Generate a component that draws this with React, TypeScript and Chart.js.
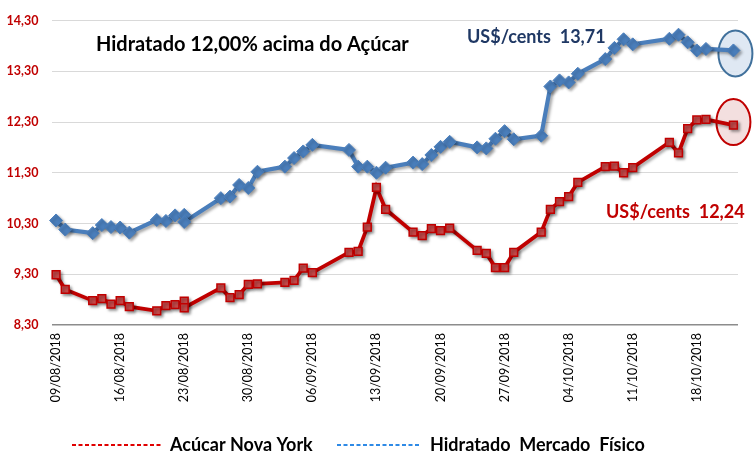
import { useEffect, useRef } from "react";
import { Chart, registerables } from "chart.js";

Chart.register(...registerables);

const dates = [
  "09/08/2018", "10/08/2018", "13/08/2018", "14/08/2018", "15/08/2018", "16/08/2018", "17/08/2018",
  "20/08/2018", "21/08/2018", "22/08/2018", "23/08/2018", "23/08/2018", "27/08/2018", "28/08/2018",
  "29/08/2018", "30/08/2018", "31/08/2018", "03/09/2018", "04/09/2018", "05/09/2018", "06/09/2018",
  "10/09/2018", "11/09/2018", "12/09/2018", "13/09/2018", "14/09/2018", "17/09/2018", "18/09/2018",
  "19/09/2018", "20/09/2018", "21/09/2018", "24/09/2018", "25/09/2018", "26/09/2018", "27/09/2018",
  "28/09/2018", "01/10/2018", "02/10/2018", "03/10/2018", "04/10/2018", "05/10/2018", "08/10/2018",
  "09/10/2018", "10/10/2018", "11/10/2018", "15/10/2018", "16/10/2018", "17/10/2018", "18/10/2018",
  "19/10/2018", "22/10/2018",
];

const sugarNewYork = [
  9.29, 9.0, 8.78, 8.82, 8.71, 8.78, 8.66,
  8.58, 8.68, 8.7, 8.77, 8.64, 9.03, 8.84,
  8.9, 9.1, 9.11, 9.14, 9.18, 9.42, 9.33,
  9.73, 9.75, 10.23, 11.01, 10.58, 10.13, 10.06,
  10.2, 10.16, 10.21, 9.77, 9.71, 9.43, 9.43,
  9.73, 10.13, 10.58, 10.73, 10.83, 11.11, 11.42,
  11.43, 11.3, 11.4, 11.9, 11.69, 12.17, 12.34,
  12.35, 12.24,
];

const hydrousPhysical = [
  10.36, 10.18, 10.11, 10.27, 10.23, 10.22, 10.12,
  10.37, 10.35, 10.46, 10.47, 10.33, 10.8, 10.83,
  11.06, 11.0, 11.32, 11.42, 11.59, 11.72, 11.85,
  11.75, 11.42, 11.42, 11.3, 11.4, 11.5, 11.47,
  11.65, 11.81, 11.91, 11.8, 11.78, 11.97, 12.12,
  11.96, 12.03, 13.0, 13.12, 13.08, 13.25, 13.54,
  13.76, 13.93, 13.83, 13.94, 14.02, 13.87, 13.71,
  13.74, 13.71,
];

const xTickLabels = [
  "09/08/2018", "16/08/2018", "23/08/2018", "30/08/2018", "06/09/2018", "13/09/2018",
  "20/09/2018", "27/09/2018", "04/10/2018", "11/10/2018", "18/10/2018",
];

const yTicks = [8.3, 9.3, 10.3, 11.3, 12.3, 13.3, 14.3];

const seriesNames = ["Acúcar Nova York", "Hidratado  Mercado  Físico"];
const titleText = "Hidratado 12,00% acima do Açúcar";
const hydrousNote = "US$/cents  13,71";
const sugarNote = "US$/cents  12,24";

const FONT = "Lato, 'Open Sans', sans-serif";

const dayIndex = (s: string) => {
  const [d, m, y] = s.split("/").map(Number);
  const [d0, m0, y0] = dates[0].split("/").map(Number);
  return Math.round((Date.UTC(y, m - 1, d) - Date.UTC(y0, m0 - 1, d0)) / 86400000);
};

const fmt = (v: number) => v.toFixed(2).replace(".", ",");

const decorPlugin = {
  id: "decor",
  beforeDatasetsDraw(chart: any) {
    const ctx = chart.ctx;
    const ell = [
      { ds: 1, dx: 2, dy: 3, fill: "rgba(220,230,242,0.9)", stroke: "#41719c" },
      { ds: 0, dx: 0, dy: -3, fill: "rgba(242,220,219,0.9)", stroke: "#c00000" },
    ];
    ell.forEach((e) => {
      const meta = chart.getDatasetMeta(e.ds);
      const last = meta.data[meta.data.length - 1];
      ctx.save();
      ctx.beginPath();
      ctx.ellipse(last.x + e.dx, last.y + e.dy, 17, 23, 0, 0, Math.PI * 2);
      ctx.fillStyle = e.fill;
      ctx.fill();
      ctx.lineWidth = 2;
      ctx.strokeStyle = e.stroke;
      ctx.stroke();
      ctx.restore();
    });
    ctx.save();
    ctx.shadowColor = "rgba(0,0,0,0.35)";
    ctx.shadowBlur = 3;
    ctx.shadowOffsetX = 2;
    ctx.shadowOffsetY = 2;
  },
  afterDatasetsDraw(chart: any) {
    const ctx = chart.ctx;
    ctx.restore();
    ctx.save();
    ctx.textBaseline = "middle";
    ctx.textAlign = "left";
    ctx.font = `bold 20px ${FONT}`;
    ctx.fillStyle = "#000000";
    ctx.fillText(titleText, 96, 45);
    ctx.font = `bold 18px ${FONT}`;
    ctx.fillStyle = "#1f3864";
    ctx.fillText(hydrousNote, 467, 37);
    ctx.fillStyle = "#c00000";
    ctx.fillText(sugarNote, 606, 212);

    const ly = 445;
    const items = [
      { x0: 72, x1: 162, tx: 170, color: "#e00000", label: seriesNames[0] },
      { x0: 337, x1: 420, tx: 430, color: "#2e8ae6", label: seriesNames[1] },
    ];
    items.forEach((it) => {
      ctx.beginPath();
      ctx.setLineDash([4, 2.5]);
      ctx.lineWidth = 2;
      ctx.strokeStyle = it.color;
      ctx.moveTo(it.x0, ly);
      ctx.lineTo(it.x1, ly);
      ctx.stroke();
      ctx.setLineDash([]);
      ctx.fillStyle = "#000000";
      ctx.font = `bold 18px ${FONT}`;
      ctx.fillText(it.label, it.tx, ly);
    });
    ctx.restore();
  },
};

export default function App() {
  const canvasRef = useRef<HTMLCanvasElement | null>(null);

  useEffect(() => {
    if (!canvasRef.current) return;
    const xs = dates.map(dayIndex);
    const tickDays = xTickLabels.map(dayIndex);
    const chart = new Chart(canvasRef.current, {
      type: "line",
      data: {
        datasets: [
          {
            label: seriesNames[0],
            data: sugarNewYork.map((v, i) => ({ x: xs[i], y: v })),
            borderColor: "#c00000",
            borderWidth: 3.8,
            pointStyle: "rect",
            pointRadius: 5.5,
            pointBackgroundColor: "#c84a4a",
            pointBorderColor: "#c00000",
            pointBorderWidth: 1.5,
            tension: 0,
            clip: false,
          },
          {
            label: seriesNames[1],
            data: hydrousPhysical.map((v, i) => ({ x: xs[i], y: v })),
            borderColor: "#4a7ebb",
            borderWidth: 4.2,
            pointStyle: "rectRot",
            pointRadius: 6.5,
            pointBackgroundColor: "#4a7ebb",
            pointBorderColor: "#4a7ebb",
            pointBorderWidth: 1,
            tension: 0,
            clip: false,
          },
        ],
      },
      options: {
        animation: false,
        responsive: true,
        maintainAspectRatio: false,
        layout: { padding: { top: 19, right: 16, left: 0, bottom: 0 } },
        plugins: { legend: { display: false }, tooltip: { enabled: false }, title: { display: false } },
        scales: {
          x: {
            type: "linear",
            min: xs[0] - 0.5,
            max: xs[xs.length - 1] + 0.5,
            afterFit: (s: any) => {
              s.height = 127;
            },
            afterBuildTicks: (s: any) => {
              s.ticks = tickDays.map((v) => ({ value: v }));
            },
            grid: { display: false, drawTicks: false },
            border: { display: false },
            ticks: {
              autoSkip: false,
              minRotation: 90,
              maxRotation: 90,
              padding: 8,
              color: "#000000",
              font: { family: FONT, size: 12.5 },
              callback: (_v: any, i: number) => xTickLabels[i],
            },
          },
          y: {
            min: yTicks[0],
            max: yTicks[yTicks.length - 1],
            afterFit: (s: any) => {
              s.width = 51.5;
            },
            afterBuildTicks: (s: any) => {
              s.ticks = yTicks.map((v) => ({ value: v }));
            },
            grid: {
              drawTicks: false,
              color: (c: any) => (c.index === 0 ? "#8c8c8c" : "#d9d9d9"),
              lineWidth: (c: any) => (c.index === 0 ? 1.5 : 1),
            },
            border: { display: false },
            ticks: {
              padding: 13,
              color: "#c00000",
              font: { family: FONT, size: 12.5, weight: "bold" },
              callback: (v: any) => fmt(Number(v)),
            },
          },
        },
      },
      plugins: [decorPlugin],
    });
    return () => chart.destroy();
  }, []);

  return (
    <div style={{ position: "fixed", left: 0, top: 0, width: 754, height: 452, background: "#ffffff" }}>
      <canvas ref={canvasRef} />
    </div>
  );
}
